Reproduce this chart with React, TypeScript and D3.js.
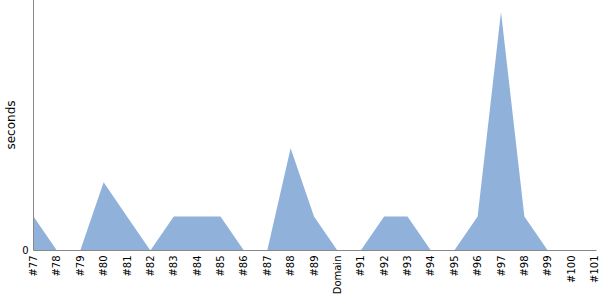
import React from "react";
import * as d3 from "d3";

const categories = ["#77","#78","#79","#80","#81","#82","#83","#84","#85","#86","#87","#88","#89","Domain","#91","#92","#93","#94","#95","#96","#97","#98","#99","#100","#101"];
const seconds = [1,0,0,2,1,0,1,1,1,0,0,3,1,0,0,1,1,0,0,1,7,1,0,0,0];
const yTicks = [0];

export default function App() {
  const W = 600, H = 300;
  const left = 33.5, right = 594.5, top = 0, bottom = 250.5;
  const x = d3.scalePoint<string>().domain(categories).range([left, right]);
  const y = d3.scaleLinear().domain([0, (d3.max(seconds) as number) * 1.05]).range([bottom, top]);
  const area = d3.area<number>()
    .x((_, i) => x(categories[i]) as number)
    .y0(bottom)
    .y1((d) => y(d));
  return (
    <svg width={W} height={H} style={{ position: "absolute", left: 0, top: 0 }} fontFamily="DejaVu Sans, sans-serif">
      <path d={area(seconds) || ""} fill="#8fb1da" />
      <line x1={left} x2={left} y1={top} y2={bottom} stroke="#888" strokeWidth={1} />
      <line x1={left} x2={right + 2} y1={bottom} y2={bottom} stroke="#888" strokeWidth={1} />
      {yTicks.map((t) => (
        <text key={t} x={left - 5} y={y(t)} dy="0.35em" textAnchor="end" fontSize={10} fill="#000">{t}</text>
      ))}
      <text transform={`translate(15,125) rotate(-90)`} textAnchor="middle" fontSize={12} fill="#000">seconds</text>
      {categories.map((c) => (
        <text key={c} transform={`translate(${x(c)},${bottom + 5}) rotate(-90)`} textAnchor="end" dy="0.35em" fontSize={10} fill="#000">{c}</text>
      ))}
    </svg>
  );
}
